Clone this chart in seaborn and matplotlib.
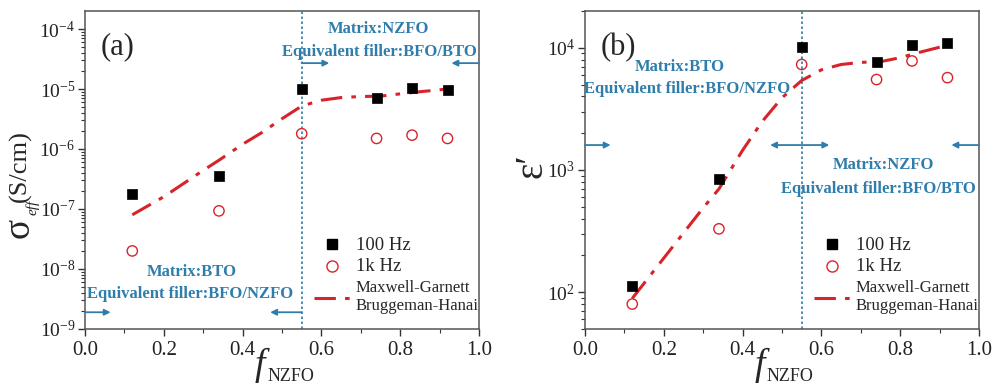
import matplotlib
matplotlib.use("Agg")
import matplotlib.pyplot as plt
import matplotlib.ticker as mticker
import seaborn as sns

# ---- data ----
f_nzfo = [0.12, 0.34, 0.55, 0.74, 0.83, 0.92]

sigma_100hz = [1.8e-7, 3.6e-7, 1.0e-5, 7.0e-6, 1.05e-5, 9.5e-6]
sigma_1khz = [2.0e-8, 9.3e-8, 1.8e-6, 1.5e-6, 1.7e-6, 1.5e-6]

eps_100hz = [112, 840, 10200, 7700, 10500, 11000]
eps_1khz = [80, 330, 7300, 5500, 7800, 5700]

f_model = [0.12, 0.2, 0.3, 0.34, 0.4, 0.45, 0.5, 0.55, 0.6, 0.65, 0.7, 0.75, 0.8, 0.85, 0.92]
sigma_model = [8e-8, 1.6e-7, 4.4e-7, 6.5e-7, 1.2e-6, 1.9e-6, 3.2e-6, 5.2e-6,
               6.5e-6, 7.2e-6, 7.5e-6, 7.6e-6, 8.3e-6, 9.0e-6, 1.0e-5]
eps_model = [89, 190, 490, 700, 1450, 2500, 3900, 5400,
             6600, 7300, 7600, 7700, 8300, 9200, 10500]

f_boundary = 0.55

sns.set_theme(style="ticks")
plt.rcParams["font.family"] = ["Liberation Serif", "DejaVu Serif"]
plt.rcParams["mathtext.fontset"] = "stix"

RED = "#d9232b"
BLUE = "#2f7dab"
DASHDOT = (0, (7, 3, 1.5, 3))

W, H = 993, 385
fig = plt.figure(figsize=(W / 100, H / 100), dpi=100)
ax_a = fig.add_axes([0.0856, 0.1455, 0.3968, 0.8259])
ax_b = fig.add_axes([0.5891, 0.1455, 0.3968, 0.8259])


def ftext(px, py, s, **kw):
    # place a text by figure pixel position (from top-left)
    fig.text(px / W, 1 - py / H, s, **kw)


def draw_panel(ax, y100, y1k, ymodel):
    sns.lineplot(x=f_model, y=ymodel, color=RED, lw=2.2, ax=ax, legend=False)
    ax.lines[-1].set_linestyle(DASHDOT)
    sns.scatterplot(x=f_nzfo, y=y100, marker="s", color="black", s=48,
                    edgecolor="black", linewidth=0.5, ax=ax, legend=False, zorder=4)
    sns.scatterplot(x=f_nzfo, y=y1k, marker="o", s=55, facecolors="none",
                    edgecolors=RED, linewidth=1.0, ax=ax, legend=False, zorder=4)
    ax.axvline(f_boundary, color=BLUE, ls=(0, (1.5, 1.5)), lw=1.2, zorder=1)

    ax.set_yscale("log")
    ax.set_xlim(0, 1.0)
    ax.xaxis.set_major_locator(mticker.MultipleLocator(0.2))
    ax.xaxis.set_minor_locator(mticker.MultipleLocator(0.1))
    ax.xaxis.set_major_formatter(mticker.FormatStrFormatter("%.1f"))
    ax.tick_params(which="major", direction="out", length=5, width=1, labelsize=15,
                   top=False, right=False, colors="#333333", labelcolor="#222222")
    ax.tick_params(axis="y", which="major", labelsize=14, pad=2)
    ax.tick_params(which="minor", direction="out", length=3, width=0.8,
                   top=False, right=False, colors="#333333")
    for sp in ax.spines.values():
        sp.set_color("#555555")
        sp.set_linewidth(1.1)
    ax.set_xlabel("")
    ax.set_ylabel("")

    # x label: big italic f with small NZFO subscript
    ax.text(0.43, -0.145, "f", transform=ax.transAxes, fontsize=27,
            fontstyle="italic", va="baseline", ha="left")
    ax.text(0.462, -0.165, "NZFO", transform=ax.transAxes, fontsize=13,
            va="baseline", ha="left")

    # legend
    h_sq = plt.Line2D([], [], marker="s", color="black", ls="none", ms=7)
    h_ci = plt.Line2D([], [], marker="o", mec=RED, mfc="none", ls="none", ms=8)
    h_ln = plt.Line2D([], [], color=RED, lw=2.2, ls=DASHDOT)
    leg = ax.legend([h_sq, h_ci, h_ln],
                    ["100 Hz", "1k Hz", "Maxwell-Garnett\nBruggeman-Hanai"],
                    loc="upper left", bbox_to_anchor=(0.565, 0.31), frameon=False,
                    handlelength=2.4, handletextpad=0.35, labelspacing=0.3,
                    borderaxespad=0)
    for t, fs in zip(leg.get_texts(), [13.5, 13.5, 12]):
        t.set_fontsize(fs)


def arrow(ax, x0, x1, y, both=False):
    style = "<|-|>" if both else "-|>"
    ax.annotate("", xy=(x1, y), xytext=(x0, y),
                arrowprops=dict(arrowstyle=style, color=BLUE, lw=1.3,
                                mutation_scale=9, shrinkA=0, shrinkB=0))


txt = dict(color=BLUE, fontweight="bold", fontsize=12, ha="center", va="center",
           family="Liberation Serif")

# ---- panel (a) ----
draw_panel(ax_a, sigma_100hz, sigma_1khz, sigma_model)
ax_a.set_ylim(1e-9, 10 ** -3.7)
ax_a.yaxis.set_major_locator(mticker.LogLocator(base=10, numticks=10))
ax_a.yaxis.set_minor_locator(mticker.LogLocator(base=10, subs=range(2, 10), numticks=10))
ax_a.yaxis.set_minor_formatter(mticker.NullFormatter())
ftext(19, 228, "σ", fontsize=27, rotation=90, ha="center", va="center")
ftext(33, 207, "eff", fontsize=11, fontstyle="italic", rotation=90, ha="center", va="center")
ftext(20, 166, "(S/cm)", fontsize=19, rotation=90, ha="center", va="center")
ax_a.text(0.04, 10 ** -4.3, "(a)", fontsize=22, va="center")
ax_a.text(0.746, 1.0e-4, "Matrix:NZFO", **txt)
ax_a.text(0.746, 4.1e-5, "Equivalent filler:BFO/BTO", **txt)
ax_a.text(0.27, 9.0e-9, "Matrix:BTO", **txt)
ax_a.text(0.267, 3.8e-9, "Equivalent filler:BFO/NZFO", **txt)
arrow(ax_a, 0.0, 0.065, 1.9e-9)
arrow(ax_a, 0.55, 0.47, 1.9e-9)
arrow(ax_a, 0.55, 0.62, 2.7e-5)
arrow(ax_a, 1.0, 0.93, 2.7e-5)

# ---- panel (b) ----
draw_panel(ax_b, eps_100hz, eps_1khz, eps_model)
ax_b.set_ylim(50, 2e4)
ax_b.yaxis.set_major_locator(mticker.LogLocator(base=10, numticks=10))
ax_b.yaxis.set_minor_locator(mticker.LogLocator(base=10, subs=range(2, 10), numticks=10))
ax_b.yaxis.set_minor_formatter(mticker.NullFormatter())
ftext(532, 166, "ε′", fontsize=28, rotation=90, ha="center", va="center")
ax_b.text(0.04, 1e4, "(b)", fontsize=22, va="center")
ax_b.text(0.241, 7.0e3, "Matrix:BTO", **txt)
ax_b.text(0.258, 4.6e3, "Equivalent filler:BFO/NZFO", **txt)
ax_b.text(0.757, 1.09e3, "Matrix:NZFO", **txt)
ax_b.text(0.746, 7.0e2, "Equivalent filler:BFO/BTO", **txt)
arrow(ax_b, 0.0, 0.065, 1.6e3)
arrow(ax_b, 0.47, 0.62, 1.6e3, both=True)
arrow(ax_b, 1.0, 0.93, 1.6e3)

fig.savefig("out.png", dpi=100)
